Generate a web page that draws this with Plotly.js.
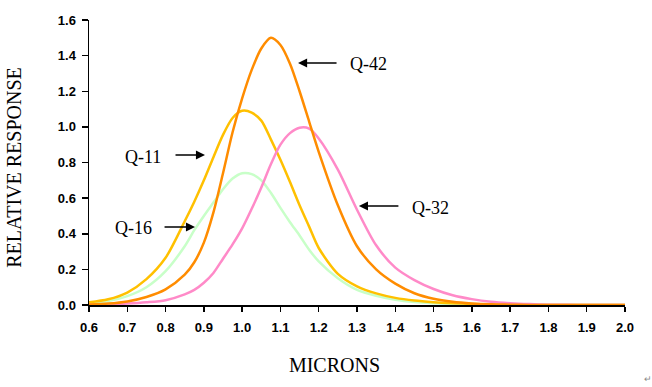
<!DOCTYPE html>
<html>
<head>
<meta charset="utf-8">
<script src="https://cdn.plot.ly/plotly-3.0.1.min.js"></script>
<style>html,body{margin:0;padding:0;background:#fff;}#chart{width:652px;height:387px;}</style>
</head>
<body>
<div id="chart"></div>
<script>
// Wavelength (microns)
const microns = [0.60,0.65,0.70,0.75,0.80,0.85,0.875,0.90,0.925,0.95,0.975,1.00,1.025,1.05,1.075,1.10,1.125,1.15,1.175,1.20,1.25,1.30,1.35,1.40,1.45,1.50,1.55,1.60,1.65,1.70,1.75,1.80,1.85,1.90,1.95,2.00];
// Relative response series
const q42 = [0.003,0.008,0.020,0.045,0.088,0.170,0.240,0.350,0.520,0.740,0.970,1.160,1.320,1.440,1.500,1.460,1.355,1.200,1.030,0.860,0.560,0.330,0.200,0.120,0.066,0.035,0.018,0.009,0.004,0.002,0,0,0,0,0,0];
const q11 = [0.015,0.032,0.070,0.145,0.265,0.470,0.580,0.700,0.830,0.955,1.050,1.090,1.080,1.035,0.930,0.815,0.690,0.560,0.440,0.320,0.175,0.105,0.065,0.040,0.025,0.016,0.010,0.006,0.003,0.001,0,0,0,0,0,0];
const q16 = [0.010,0.022,0.050,0.100,0.190,0.330,0.420,0.500,0.575,0.650,0.710,0.740,0.735,0.700,0.630,0.545,0.465,0.390,0.310,0.245,0.150,0.085,0.052,0.030,0.017,0.010,0.005,0.003,0.001,0,0,0,0,0,0,0];
const q32 = [0.002,0.004,0.008,0.015,0.027,0.060,0.085,0.125,0.180,0.260,0.340,0.430,0.540,0.660,0.790,0.900,0.965,0.995,0.990,0.935,0.760,0.535,0.335,0.210,0.140,0.090,0.055,0.033,0.018,0.010,0.005,0.002,0.001,0,0,0];
const seriesNames = ["Q-16","Q-11","Q-32","Q-42"];
const seriesColors = ["#C8FFC8","#FFC000","#FF8AC8","#FF8C00"];
const seriesData = [q16,q11,q32,q42];
const xTitle = "MICRONS";
const yTitle = "RELATIVE RESPONSE";

const traces = seriesData.map((ys,i)=>({
  x: microns, y: ys, type:'scatter', mode:'lines', name: seriesNames[i],
  line:{color: seriesColors[i], width:2.5, shape:'spline', smoothing:0.8},
  hoverinfo:'skip'
}));

const serif = '"Liberation Serif", "Times New Roman", serif';
const labelFont = {family:serif, size:18, color:'#000'};
function arrowAnn(x,y,ax){
  return {x:x, y:y, xref:'x', yref:'y', text:'', showarrow:true, ax:ax, ay:0,
          arrowhead:2, arrowsize:1.3, arrowwidth:1.4, arrowcolor:'#000'};
}
function textAnn(x,y,t){
  return {x:x, y:y, xref:'x', yref:'y', text:t, showarrow:false, font:labelFont,
          xanchor:'center', yanchor:'middle'};
}
const annotations = [
  arrowAnn(1.146,1.359,40), textAnn(1.329,1.353,'Q-42'),
  arrowAnn(0.903,0.842,-31), textAnn(0.741,0.831,'Q-11'),
  arrowAnn(0.877,0.438,-32), textAnn(0.715,0.432,'Q-16'),
  arrowAnn(1.305,0.556,41), textAnn(1.491,0.545,'Q-32'),
  {x:1, y:0, xref:'paper', yref:'paper', xanchor:'center', yanchor:'middle',
   xshift:23, yshift:-73, text:'\u21B5', showarrow:false, font:{size:9, color:'#888'}}
];

// trailing padding (non-breaking spaces kept by a zero-width end mark) offsets the centred titles
const pad = n => '\u00A0'.repeat(n) + '\u200B';
const tickFont = {family:'"Liberation Sans", Arial, sans-serif', size:13, color:'#000', weight:'bold'};
const layout = {
  width:652, height:387,
  margin:{l:89, r:27, t:20, b:82},
  paper_bgcolor:'#fff', plot_bgcolor:'#fff',
  showlegend:false,
  xaxis:{
    range:[0.6,2.0], dtick:0.1, tick0:0.6, tickformat:'.1f',
    showgrid:false, zeroline:false, showline:true, linecolor:'#000', linewidth:1.5,
    ticks:'outside', ticklen:5, tickwidth:1.5, tickcolor:'#000',
    tickfont:tickFont, ticklabelstandoff:5,
    title:{text:xTitle + pad(9), font:{family:serif, size:20, color:'#000'}, standoff:24},
    fixedrange:true
  },
  yaxis:{
    range:[0,1.6], dtick:0.2, tickformat:'.1f',
    showgrid:false, zeroline:false, showline:true, linecolor:'#000', linewidth:1.5,
    ticks:'outside', ticklen:6, tickwidth:1.5, tickcolor:'#000',
    tickfont:tickFont, ticklabelstandoff:3,
    title:{text:yTitle + pad(2), font:{family:serif, size:20, color:'#000'}, standoff:31},
    fixedrange:true
  },
  annotations: annotations
};

Plotly.newPlot('chart', traces, layout, {displayModeBar:false, staticPlot:true});
</script>
</body>
</html>
